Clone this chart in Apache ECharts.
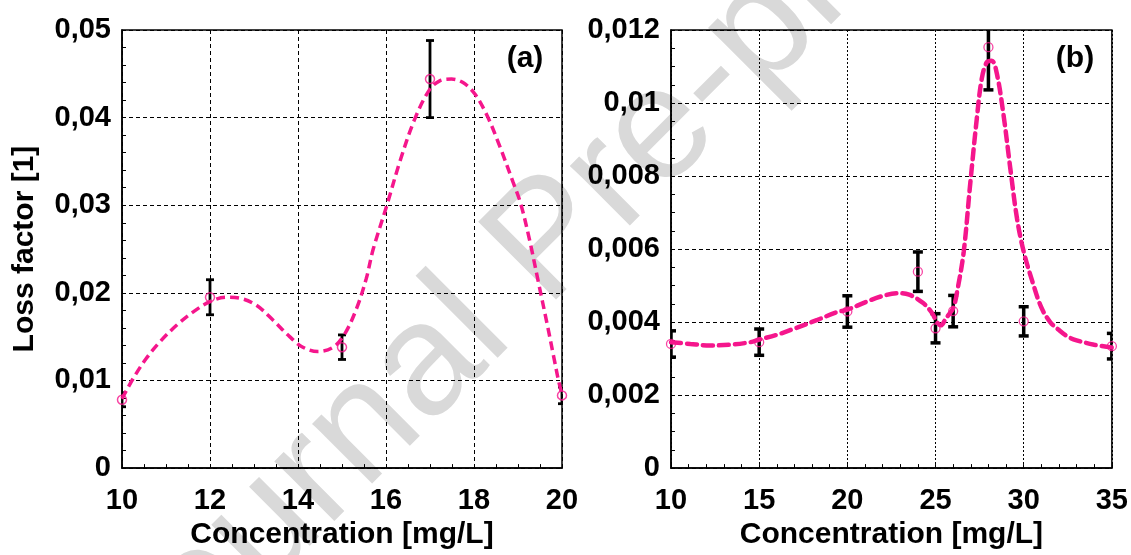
<!DOCTYPE html>
<html><head><meta charset="utf-8">
<script src="https://cdn.jsdelivr.net/npm/echarts@6/dist/echarts.min.js"></script>
<style>html,body{margin:0;padding:0;background:#fff}#c{width:1131px;height:555px}</style>
</head><body><div id="c"></div>
<script>
// ---- Panel (a) ----
const concA = [10, 12, 15, 17, 20];
const lossA = [0.0078, 0.0195, 0.0138, 0.0444, 0.0083];
const errA  = [0.0008, 0.0020, 0.0014, 0.0044, 0.00095];
const fitXA = [10, 10.25, 10.55, 10.86, 11.24, 11.61, 12.0, 12.37, 12.67, 13.05, 13.43, 13.81, 14.11, 14.45, 14.8, 15.06, 15.33, 15.55, 15.71, 16.02, 16.31, 16.65, 16.99, 17.22, 17.49, 17.75, 18.02, 18.3, 18.58, 18.89, 19.06, 19.26, 19.46, 19.66, 19.82, 19.92, 20.0];
const fitYA = [0.0079, 0.0102, 0.0125, 0.0144, 0.0163, 0.0178, 0.0190, 0.0195, 0.0194, 0.0186, 0.0169, 0.0150, 0.0138, 0.0133, 0.0138, 0.0153, 0.0182, 0.0216, 0.0250, 0.0300, 0.0349, 0.0398, 0.0432, 0.0442, 0.0444, 0.0440, 0.0427, 0.0402, 0.0368, 0.0326, 0.0302, 0.0261, 0.0213, 0.0165, 0.0125, 0.0100, 0.0084];
const yTicksA = ['0', '0,01', '0,02', '0,03', '0,04', '0,05'];

// ---- Panel (b) ----
const concB = [10, 15, 20, 24, 25, 26, 28, 30, 35];
const lossB = [0.0034, 0.00345, 0.00429, 0.00538, 0.00383, 0.0043, 0.01153, 0.00402, 0.00334];
const errB  = [0.00036, 0.00036, 0.00043, 0.00054, 0.0004, 0.00043, 0.00117, 0.0004, 0.00035];
const fitXB = [10, 11.1, 12.2, 13.4, 14.5, 15.0, 16.0, 17.1, 18.3, 19.4, 20.0, 21.1, 21.9, 22.8, 23.5, 24.3, 24.8, 25.1, 25.3, 25.6, 26.0, 26.25, 26.6, 26.96, 27.34, 27.62, 27.91, 28.19, 28.48, 28.86, 29.24, 29.62, 30.0, 30.5, 31.0, 31.5, 32.0, 32.5, 33.0, 34.0, 35.0];
const fitYB = [0.00345, 0.0034, 0.00336, 0.00338, 0.00345, 0.00352, 0.00365, 0.00384, 0.00406, 0.00427, 0.00434, 0.00456, 0.0047, 0.00479, 0.00475, 0.00452, 0.00425, 0.00398, 0.00391, 0.00411, 0.00438, 0.0049, 0.00593, 0.00775, 0.00957, 0.01066, 0.01112, 0.01116, 0.0108, 0.00966, 0.00821, 0.00684, 0.00593, 0.0051, 0.0044, 0.0040, 0.00378, 0.0036, 0.0035, 0.00338, 0.0033];
const yTicksB = ['0', '0,002', '0,004', '0,006', '0,008', '0,01', '0,012'];

const PINK = '#f5168c';
const FONT = '"Liberation Sans", Arial, Helvetica, sans-serif';

const zip2 = (a, b) => a.map((v, i) => [v, b[i]]);
const zip3 = (a, b, c) => a.map((v, i) => [v, b[i], c[i]]);

function errRender(lw, cw) {
  return function (params, api) {
    const x = api.value(0), y = api.value(1), e = api.value(2);
    const hi = api.coord([x, y + e]), lo = api.coord([x, y - e]);
    const st = { stroke: '#000', lineWidth: lw };
    return {
      type: 'group', children: [
        { type: 'line', shape: { x1: hi[0], y1: hi[1], x2: lo[0], y2: lo[1] }, style: st },
        { type: 'line', shape: { x1: hi[0] - cw, y1: hi[1], x2: hi[0] + cw, y2: hi[1] }, style: st },
        { type: 'line', shape: { x1: lo[0] - cw, y1: lo[1], x2: lo[0] + cw, y2: lo[1] }, style: st }
      ]
    };
  };
}

const axisLabelStyle = { fontFamily: FONT, fontWeight: 'bold', fontSize: 29, color: '#000' };

function xAxis(idx, min, max, interval, minorSplit, vDash) {
  return {
    type: 'value', gridIndex: idx, min: min, max: max, interval: interval,
    name: 'Concentration [mg/L]', nameLocation: 'middle', nameGap: 51,
    nameTextStyle: { fontFamily: FONT, fontWeight: 'bold', fontSize: 30, color: '#000' },
    axisLine: { show: true, onZero: false, lineStyle: { color: '#000', width: 1.5 } },
    axisTick: { show: true, inside: true, length: 4, lineStyle: { color: '#000' } },
    minorTick: { show: true, splitNumber: minorSplit, length: 4, lineStyle: { color: '#000', width: 1 } },
    axisLabel: Object.assign({ margin: 18 }, axisLabelStyle),
    splitLine: { show: true, lineStyle: { color: '#000', width: 1, type: vDash } }
  };
}
function yAxis(idx, max, interval, minorSplit, ticks, withName) {
  const ax = {
    type: 'value', gridIndex: idx, min: 0, max: max, interval: interval,
    axisLine: { show: true, onZero: false, lineStyle: { color: '#000', width: 1.5 } },
    axisTick: { show: true, inside: true, length: 4, lineStyle: { color: '#000' } },
    minorTick: { show: true, splitNumber: minorSplit, length: 4, lineStyle: { color: '#000', width: 1 } },
    axisLabel: Object.assign({ margin: 11, formatter: v => ticks[Math.round(v / interval)] }, axisLabelStyle),
    splitLine: { show: true, lineStyle: { color: '#000', width: 1, type: [4, 3] } }
  };
  if (withName) {
    ax.name = 'Loss factor [1]';
    ax.nameLocation = 'middle';
    ax.nameGap = 82;
    ax.nameTextStyle = { fontFamily: FONT, fontWeight: 'bold', fontSize: 30, color: '#000' };
  }
  return ax;
}

const chart = echarts.init(document.getElementById('c'), null, { renderer: 'canvas' });
chart.setOption({
  animation: false,
  backgroundColor: '#fff',
  grid: [
    { left: 122, top: 30, width: 440, height: 440, show: true, borderColor: '#000', borderWidth: 1.5, backgroundColor: 'transparent' },
    { left: 671, top: 30, width: 441, height: 440, show: true, borderColor: '#000', borderWidth: 1.5, backgroundColor: 'transparent' }
  ],
  xAxis: [xAxis(0, 10, 20, 2, 4, [4, 3]), xAxis(1, 10, 35, 5, 5, [2, 2])],
  yAxis: [yAxis(0, 0.05, 0.01, 5, yTicksA, true), yAxis(1, 0.012, 0.002, 4, yTicksB, false)],
  graphic: [
    { type: 'text', x: 550, y: 243, rotation: Math.PI / 4, z: -1, silent: true,
      style: { text: 'Journal Pre-proof', fontSize: 160, fontFamily: FONT, fill: '#d9d9d9',
               textAlign: 'center', textVerticalAlign: 'middle', align: 'center', verticalAlign: 'middle' } },
    { type: 'text', x: 525, y: 59, z: 10, style: { text: '(a)', fontSize: 30, fontWeight: 'bold', fontFamily: FONT, fill: '#000',
               textAlign: 'center', textVerticalAlign: 'middle', align: 'center', verticalAlign: 'middle' } },
    { type: 'text', x: 1075, y: 59, z: 10, style: { text: '(b)', fontSize: 30, fontWeight: 'bold', fontFamily: FONT, fill: '#000',
               textAlign: 'center', textVerticalAlign: 'middle', align: 'center', verticalAlign: 'middle' } }
  ],
  series: [
    { type: 'custom', xAxisIndex: 0, yAxisIndex: 0, clip: true, z: 3,
      renderItem: errRender(2.8, 4), data: zip3(concA, lossA, errA), encode: { x: 0, y: 1 } },
    { type: 'scatter', xAxisIndex: 0, yAxisIndex: 0, z: 4, symbol: 'circle', symbolSize: 9,
      itemStyle: { color: 'rgba(0,0,0,0)', borderColor: PINK, borderWidth: 1.5 }, data: zip2(concA, lossA) },
    { type: 'line', xAxisIndex: 0, yAxisIndex: 0, z: 5, smooth: 0.35, showSymbol: false, symbol: 'none',
      lineStyle: { color: PINK, width: 3.5, type: [9, 5] }, data: zip2(fitXA, fitYA) },

    { type: 'custom', xAxisIndex: 1, yAxisIndex: 1, clip: true, z: 3,
      renderItem: errRender(3.5, 5), data: zip3(concB, lossB, errB), encode: { x: 0, y: 1 } },
    { type: 'scatter', xAxisIndex: 1, yAxisIndex: 1, z: 4, symbol: 'circle', symbolSize: 9,
      itemStyle: { color: 'rgba(0,0,0,0)', borderColor: PINK, borderWidth: 1.3 }, data: zip2(concB, lossB) },
    { type: 'line', xAxisIndex: 1, yAxisIndex: 1, z: 5, smooth: 0.35, showSymbol: false, symbol: 'none',
      lineStyle: { color: PINK, width: 4.5, type: [10, 6], cap: 'round' }, data: zip2(fitXB, fitYB) }
  ]
});
</script>
</body></html>
